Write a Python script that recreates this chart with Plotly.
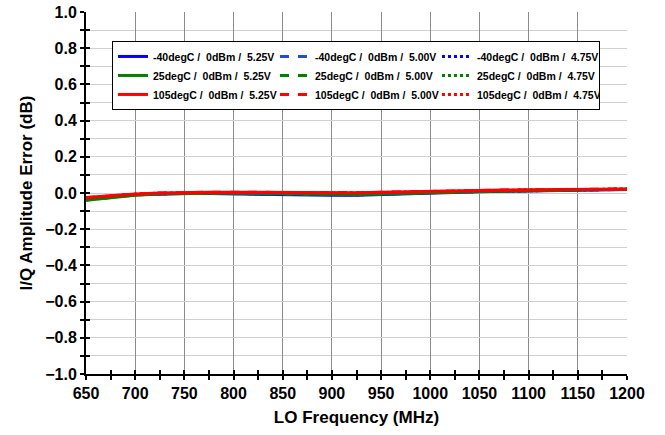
import plotly.graph_objects as go

freq = [650, 675, 700, 725, 750, 775, 800, 825, 850, 875, 900, 925, 950,
        975, 1000, 1025, 1050, 1075, 1100, 1125, 1150, 1175, 1200]

m40_525 = [-0.035, -0.020, -0.010, -0.005, -0.003, -0.003, -0.005, -0.008, -0.010, -0.012, -0.013, -0.012,
           -0.008, -0.003, 0.002, 0.005, 0.007, 0.009, 0.011, 0.013, 0.015, 0.018, 0.020]
m40_500 = [-0.034, -0.019, -0.009, -0.004, -0.002, -0.002, -0.004, -0.007, -0.009, -0.011, -0.012, -0.011,
           -0.007, -0.002, 0.003, 0.006, 0.008, 0.010, 0.012, 0.014, 0.016, 0.018, 0.020]
m40_475 = [-0.033, -0.018, -0.008, -0.003, -0.001, -0.001, -0.003, -0.006, -0.008, -0.010, -0.011, -0.010,
           -0.006, -0.001, 0.003, 0.006, 0.008, 0.010, 0.012, 0.014, 0.016, 0.019, 0.021]
p25_525 = [-0.040, -0.025, -0.012, -0.005, -0.002, -0.001, -0.002, -0.004, -0.006, -0.008, -0.009, -0.008,
           -0.005, -0.001, 0.003, 0.006, 0.008, 0.011, 0.013, 0.015, 0.017, 0.019, 0.021]
p25_500 = [-0.039, -0.024, -0.011, -0.004, -0.001, 0.000, -0.001, -0.003, -0.005, -0.007, -0.008, -0.007,
           -0.004, 0.000, 0.004, 0.007, 0.009, 0.011, 0.013, 0.015, 0.017, 0.019, 0.021]
p25_475 = [-0.038, -0.023, -0.010, -0.003, 0.000, 0.001, 0.000, -0.002, -0.004, -0.006, -0.007, -0.006,
           -0.003, 0.001, 0.004, 0.007, 0.009, 0.012, 0.014, 0.016, 0.018, 0.020, 0.022]
p105_525 = [-0.025, -0.013, -0.005, 0.000, 0.003, 0.004, 0.004, 0.003, 0.002, 0.002, 0.002, 0.002,
            0.004, 0.007, 0.010, 0.012, 0.014, 0.016, 0.018, 0.019, 0.020, 0.021, 0.022]
p105_500 = [-0.026, -0.014, -0.006, 0.000, 0.003, 0.004, 0.004, 0.003, 0.002, 0.001, 0.001, 0.002,
            0.004, 0.007, 0.010, 0.012, 0.014, 0.016, 0.017, 0.019, 0.020, 0.021, 0.022]
p105_475 = [-0.027, -0.015, -0.006, -0.001, 0.002, 0.003, 0.003, 0.002, 0.001, 0.001, 0.001, 0.001,
            0.003, 0.006, 0.009, 0.011, 0.013, 0.015, 0.017, 0.018, 0.019, 0.020, 0.021]

NB = "\u00a0"
def lbl(t, v):
    return f"{t}{NB}/{NB}{NB}0dBm{NB}/{NB}{NB}{v}"

series = [
    (lbl("-40degC", "5.25V"), m40_525, "#0000FF", "solid"),
    (lbl("-40degC", "5.00V"), m40_500, "#1F4FD0", "dash"),
    (lbl("-40degC", "4.75V"), m40_475, "#0000FF", "dot"),
    (lbl("25degC", "5.25V"), p25_525, "#008000", "solid"),
    (lbl("25degC", "5.00V"), p25_500, "#008000", "dash"),
    (lbl("25degC", "4.75V"), p25_475, "#008000", "dot"),
    (lbl("105degC", "5.25V"), p105_525, "#FF0000", "solid"),
    (lbl("105degC", "5.00V"), p105_500, "#FF0000", "dash"),
    (lbl("105degC", "4.75V"), p105_475, "#FF0000", "dot"),
]

fig = go.Figure()
for name, ys, col, dash in series:
    fig.add_trace(go.Scatter(x=freq, y=ys, name=name, mode="lines",
                             line=dict(color=col, width=3, dash=dash)))

# invisible helper trace on the overlay axes (for ticks crossing the axis lines)
fig.add_trace(go.Scatter(x=[freq[0]], y=[m40_525[0]], xaxis="x2", yaxis="y2", mode="markers",
                         marker=dict(opacity=0), showlegend=False, hoverinfo="skip"))

font = "Liberation Sans"
tf = dict(size=16, family=font, weight="bold", color="black")
fig.update_layout(
    width=665, height=435,
    margin=dict(l=86, r=38, t=12, b=61, autoexpand=False),
    plot_bgcolor="white", paper_bgcolor="white",
    font=dict(family=font, color="black"),
    showlegend=True,
    legend=dict(orientation="h", x=0.048, y=0.92, xanchor="left", yanchor="top",
                bgcolor="white", bordercolor="black", borderwidth=1,
                font=dict(size=10.5, family=font, weight="bold"),
                entrywidth=117, entrywidthmode="pixels",
                itemwidth=30, tracegroupgap=0, traceorder="normal"),
    xaxis=dict(range=[650, 1200], dtick=50, tick0=650, automargin=False, ticklabeloverflow="allow",
               showgrid=True, gridcolor="#8C8C8C", gridwidth=1,
               showline=True, linecolor="black", linewidth=2,
               ticks="outside", ticklen=4, tickwidth=2, tickcolor="black",
               minor=dict(dtick=25, ticks="outside", ticklen=4, tickwidth=2, tickcolor="black", showgrid=False),
               tickfont=tf,
               title=dict(text="LO Frequency (MHz)", font=dict(size=17, family=font, weight="bold"), standoff=10),
               zeroline=False),
    yaxis=dict(range=[-1.0, 1.0], dtick=0.2, tick0=0, tickformat=".1f", automargin=False,
               ticklabeloverflow="allow",
               showgrid=True, gridcolor="#D0D0D0", gridwidth=1,
               showline=True, linecolor="black", linewidth=2,
               ticks="outside", ticklen=4, tickwidth=2, tickcolor="black",
               minor=dict(dtick=0.1, ticks="outside", ticklen=4, tickwidth=2, tickcolor="black",
                          showgrid=True, gridcolor="#D0D0D0", gridwidth=1),
               tickfont=tf,
               title=dict(text="I/Q Amplitude Error (dB)", font=dict(size=17, family=font, weight="bold"), standoff=8),
               zeroline=False),
    xaxis2=dict(range=[650, 1200], dtick=50, tick0=650, overlaying="x", anchor="y2", side="bottom",
                automargin=False, showgrid=False, showline=False, showticklabels=False, zeroline=False,
                ticks="inside", ticklen=4, tickwidth=2, tickcolor="black",
                minor=dict(dtick=25, ticks="inside", ticklen=4, tickwidth=2, tickcolor="black", showgrid=False)),
    yaxis2=dict(range=[-1.0, 1.0], dtick=0.2, tick0=0, overlaying="y", anchor="x2", side="left",
                automargin=False, showgrid=False, showline=False, showticklabels=False, zeroline=False,
                ticks="inside", ticklen=4, tickwidth=2, tickcolor="black",
                minor=dict(dtick=0.1, ticks="inside", ticklen=4, tickwidth=2, tickcolor="black", showgrid=False)),
)

fig.write_html("out.html", config={"displayModeBar": False},
               post_script="document.body.style.margin='0px';document.body.style.overflow='hidden';")
